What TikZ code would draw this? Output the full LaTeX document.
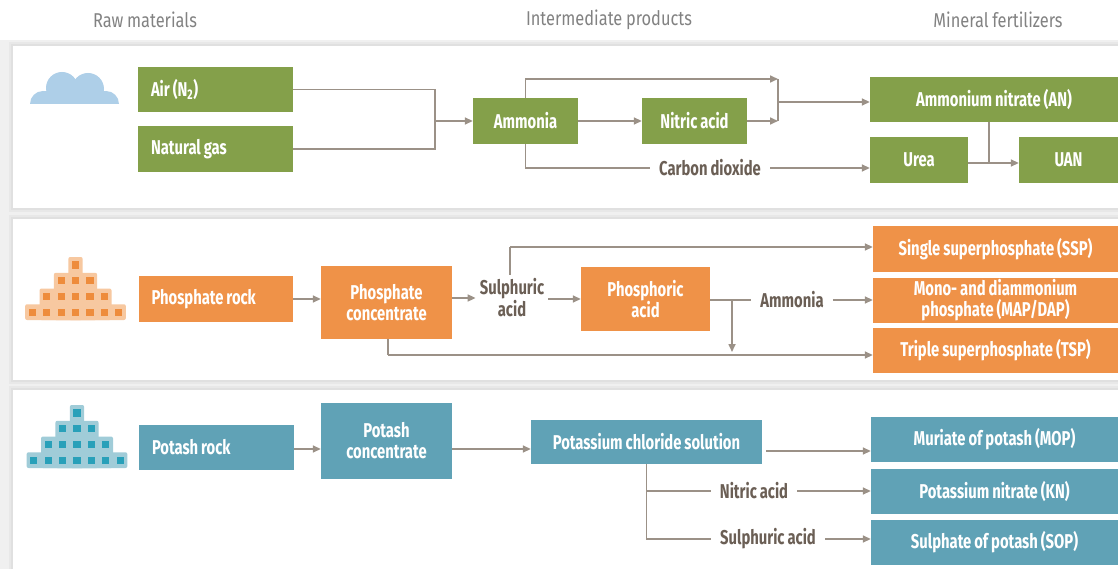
\documentclass[tikz,border=0pt]{standalone}
\usepackage{fontspec}
\setmainfont{Fira Sans}[FakeStretch=0.74,WordSpace=0.85]
\newfontfamily\hfont{Fira Sans}[FakeStretch=0.82,WordSpace=0.85]
\usetikzlibrary{arrows.meta,calc}
\definecolor{fgreen}{RGB}{132,160,74}
\definecolor{forange}{RGB}{239,146,72}
\definecolor{fteal}{RGB}{96,162,182}
\definecolor{conn}{RGB}{155,145,135}
\definecolor{lbl}{RGB}{107,95,85}
\definecolor{hdr}{RGB}{130,130,130}
\definecolor{cloudc}{RGB}{174,207,232}
\definecolor{olight}{RGB}{247,200,160}
\definecolor{odark}{RGB}{238,140,60}
\definecolor{tlight}{RGB}{160,204,216}
\definecolor{tdark}{RGB}{40,160,185}
\definecolor{bggray}{RGB}{240,240,240}
\newcommand{\lefttext}[1]{\makebox[129pt][l]{#1}}
\tikzset{
  box/.style={inner sep=0pt,text=white,font=\bfseries\fontsize{20}{21}\selectfont,align=center},
  gbox/.style={box,fill=fgreen},
  obox/.style={box,fill=forange},
  tbox/.style={box,fill=fteal},
  lab/.style={inner xsep=9pt,inner ysep=0pt,text=lbl,font=\bfseries\fontsize{20}{22}\selectfont,align=center},
  hdrtxt/.style={text=hdr,font=\hfont\fontsize{20}{22}\selectfont},
  ln/.style={draw=conn,line width=1.6pt},
  arr/.style={ln,-{Triangle[length=8pt,width=7pt]}},
}
\begin{document}
\begin{tikzpicture}[x=1pt,y=-1pt]
\useasboundingbox (0,0) rectangle (1118,569);
\fill[white] (0,0) rectangle (1118,569);
\fill[bggray] (0,40) rectangle (1118,569);
% panels with soft shadow
\foreach \ya/\yb in {46/208,219/380,390/575}{
  \fill[black,opacity=0.03] (9,\ya-4) rectangle (1118,\yb+4);
  \fill[black,opacity=0.03] (11,\ya-2) rectangle (1118,\yb+2);
  \fill[white] (13,\ya) rectangle (1118,\yb);
}
% headers
\node[hdrtxt] (h1) at (145,20) {Raw materials};
\node[hdrtxt] (h2) at (609,20) {Intermediate products};
\node[hdrtxt] (h3) at (998,20) {Mineral fertilizers};
% cloud
\begin{scope}
\clip (20,60) rectangle (130,104);
\fill[cloudc] (43,104) circle (13);
\fill[cloudc] (62,88) circle (16);
\fill[cloudc] (88,89) circle (16);
\fill[cloudc] (106,104) circle (13);
\fill[cloudc] (43,91) rectangle (106,104);
\end{scope}
% pyramids
\foreach \cx/\top/\lc/\dc in {75.5/257/olight/odark,77/405/tlight/tdark}{
  \foreach \k in {0,1,2,3}{
    \pgfmathsetmacro\hw{(2*\k+1)*7.2}
    \fill[\lc,rounded corners=2pt] (\cx-\hw,\top+\k*15.75) rectangle (\cx+\hw,\top+63);
  }
  \foreach \k in {0,1,2,3}{
    \pgfmathtruncatemacro\n{2*\k}
    \foreach \i in {0,...,\n}{
      \pgfmathsetmacro\px{\cx+(\i-\k)*14.4}
      \pgfmathsetmacro\py{\top+\k*15.75+8}
      \fill[\dc] (\px-3.6,\py-3.6) rectangle (\px+3.6,\py+3.6);
    }
  }
}
% ---------- panel 1 ----------
\node[gbox,minimum width=155,minimum height=45] (air) at (215.5,89.5) {\lefttext{Air (N\textsubscript{2})}};
\node[gbox,minimum width=155,minimum height=46] (gas) at (215.5,149) {\lefttext{Natural gas}};
\node[gbox,minimum width=105,minimum height=46] (ammonia) at (525.5,121) {Ammonia};
\node[gbox,minimum width=105,minimum height=46] (nitric) at (694.5,121) {Nitric acid};
\node[gbox,minimum width=248,minimum height=45] (an) at (994,99.5) {Ammonium nitrate (AN)};
\node[gbox,minimum width=98,minimum height=46] (urea) at (919,160) {Urea};
\node[gbox,minimum width=99,minimum height=46] (uan) at (1068.5,160) {UAN};
\node[lab] (co2) at (710,168) {Carbon dioxide};
\coordinate (j1) at (435,121);
\coordinate (b1top) at (778,79);
\coordinate (b1bot) at (778,121);
\coordinate (b1mid) at (778,102);
\coordinate (j2) at (989,163);
\draw[ln] (air.east) -| (j1);
\draw[ln] (gas.east) -| (j1);
\draw[arr] (j1) -- (ammonia.west);
\draw[arr] (ammonia.east) -- (nitric.west);
\draw[arr] (ammonia.north) |- (b1top);
\draw[arr] (nitric.east) -- (b1bot);
\draw[ln] (b1top) -- (b1bot);
\draw[arr] (b1mid) -- (b1mid -| an.west);
\draw[ln] (ammonia.south) |- (co2.west);
\draw[arr] (co2.east) -- (co2.east -| urea.west);
\draw[ln] (j2 |- an.south) -- (j2);
\draw[ln] (urea.east |- j2) -- (j2);
\draw[arr] (j2) -- (j2 -| uan.west);
% ---------- panel 2 ----------
\node[obox,minimum width=154,minimum height=46] (prock) at (216,299) {\lefttext{Phosphate rock}};
\node[obox,minimum width=131,minimum height=73] (pconc) at (386.5,302.5) {Phosphate\\concentrate};
\node[lab,inner xsep=4pt,inner ysep=4pt] (sulph) at (512,298) {Sulphuric\\acid};
\node[obox,minimum width=129,minimum height=64] (phacid) at (645.5,299) {Phosphoric\\acid};
\node[obox,minimum width=245,minimum height=46] (ssp) at (995.5,249) {Single superphosphate (SSP)};
\node[obox,minimum width=245,minimum height=45] (mapdap) at (995.5,300.5) {Mono- and diammonium\\phosphate (MAP/DAP)};
\node[obox,minimum width=245,minimum height=45] (tsp) at (995.5,350.5) {Triple superphosphate (TSP)};
\node[lab] (amm2) at (792,300) {Ammonia};
\coordinate (s1) at (510,247);
\coordinate (pdown) at (732,300);
\coordinate (pdownend) at (732,352);
\coordinate (t1) at (388,355);
\draw[arr] (prock.east) -- (pconc.west |- prock.east);
\draw[arr] (pconc.east |- sulph.west) -- (sulph.west);
\draw[ln] (s1 |- sulph.north) -- (s1);
\draw[arr] (s1) -- (s1 -| ssp.west);
\draw[arr] (sulph.east |- phacid.west) -- (phacid.west);
\draw[ln] (phacid.east |- amm2.west) -- (amm2.west);
\draw[arr] (amm2.east) -- (amm2.east -| mapdap.west);
\draw[arr] (pdown) -- (pdownend);
\draw[ln] (t1 |- pconc.south) -- (t1);
\draw[arr] (t1) -- (t1 -| tsp.west);
% ---------- panel 3 ----------
\node[tbox,minimum width=155,minimum height=45] (krock) at (216.5,447.5) {\lefttext{Potash rock}};
\node[tbox,minimum width=131,minimum height=76] (kconc) at (386.5,441) {Potash\\concentrate};
\node[tbox,minimum width=231,minimum height=44] (kcl) at (646.5,442) {Potassium chloride solution};
\node[tbox,minimum width=247,minimum height=45] (mop) at (994.5,439.5) {Muriate of potash (MOP)};
\node[tbox,minimum width=247,minimum height=45] (kn) at (994.5,491.5) {Potassium nitrate (KN)};
\node[tbox,minimum width=247,minimum height=45] (sop) at (994.5,542.5) {Sulphate of potash (SOP)};
\node[lab] (lnit) at (754,491) {Nitric acid};
\node[lab] (lsul) at (768,539) {Sulphuric acid};
\coordinate (k1) at (300,449);
\coordinate (k2) at (460,449);
\coordinate (k3) at (770,451);
\draw[arr] (krock.east |- k1) -- (kconc.west |- k1);
\draw[arr] (kconc.east |- k2) -- (kcl.west |- k2);
\draw[arr,shorten <=4pt] (kcl.east |- k3) -- (mop.west |- k3);
\draw[ln] (kcl.south) |- (lnit.west);
\draw[ln] (kcl.south) |- (lsul.west);
\draw[arr] (lnit.east) -- (lnit.east -| kn.west);
\draw[arr] (lsul.east) -- (lsul.east -| sop.west);
\end{tikzpicture}
\end{document}
